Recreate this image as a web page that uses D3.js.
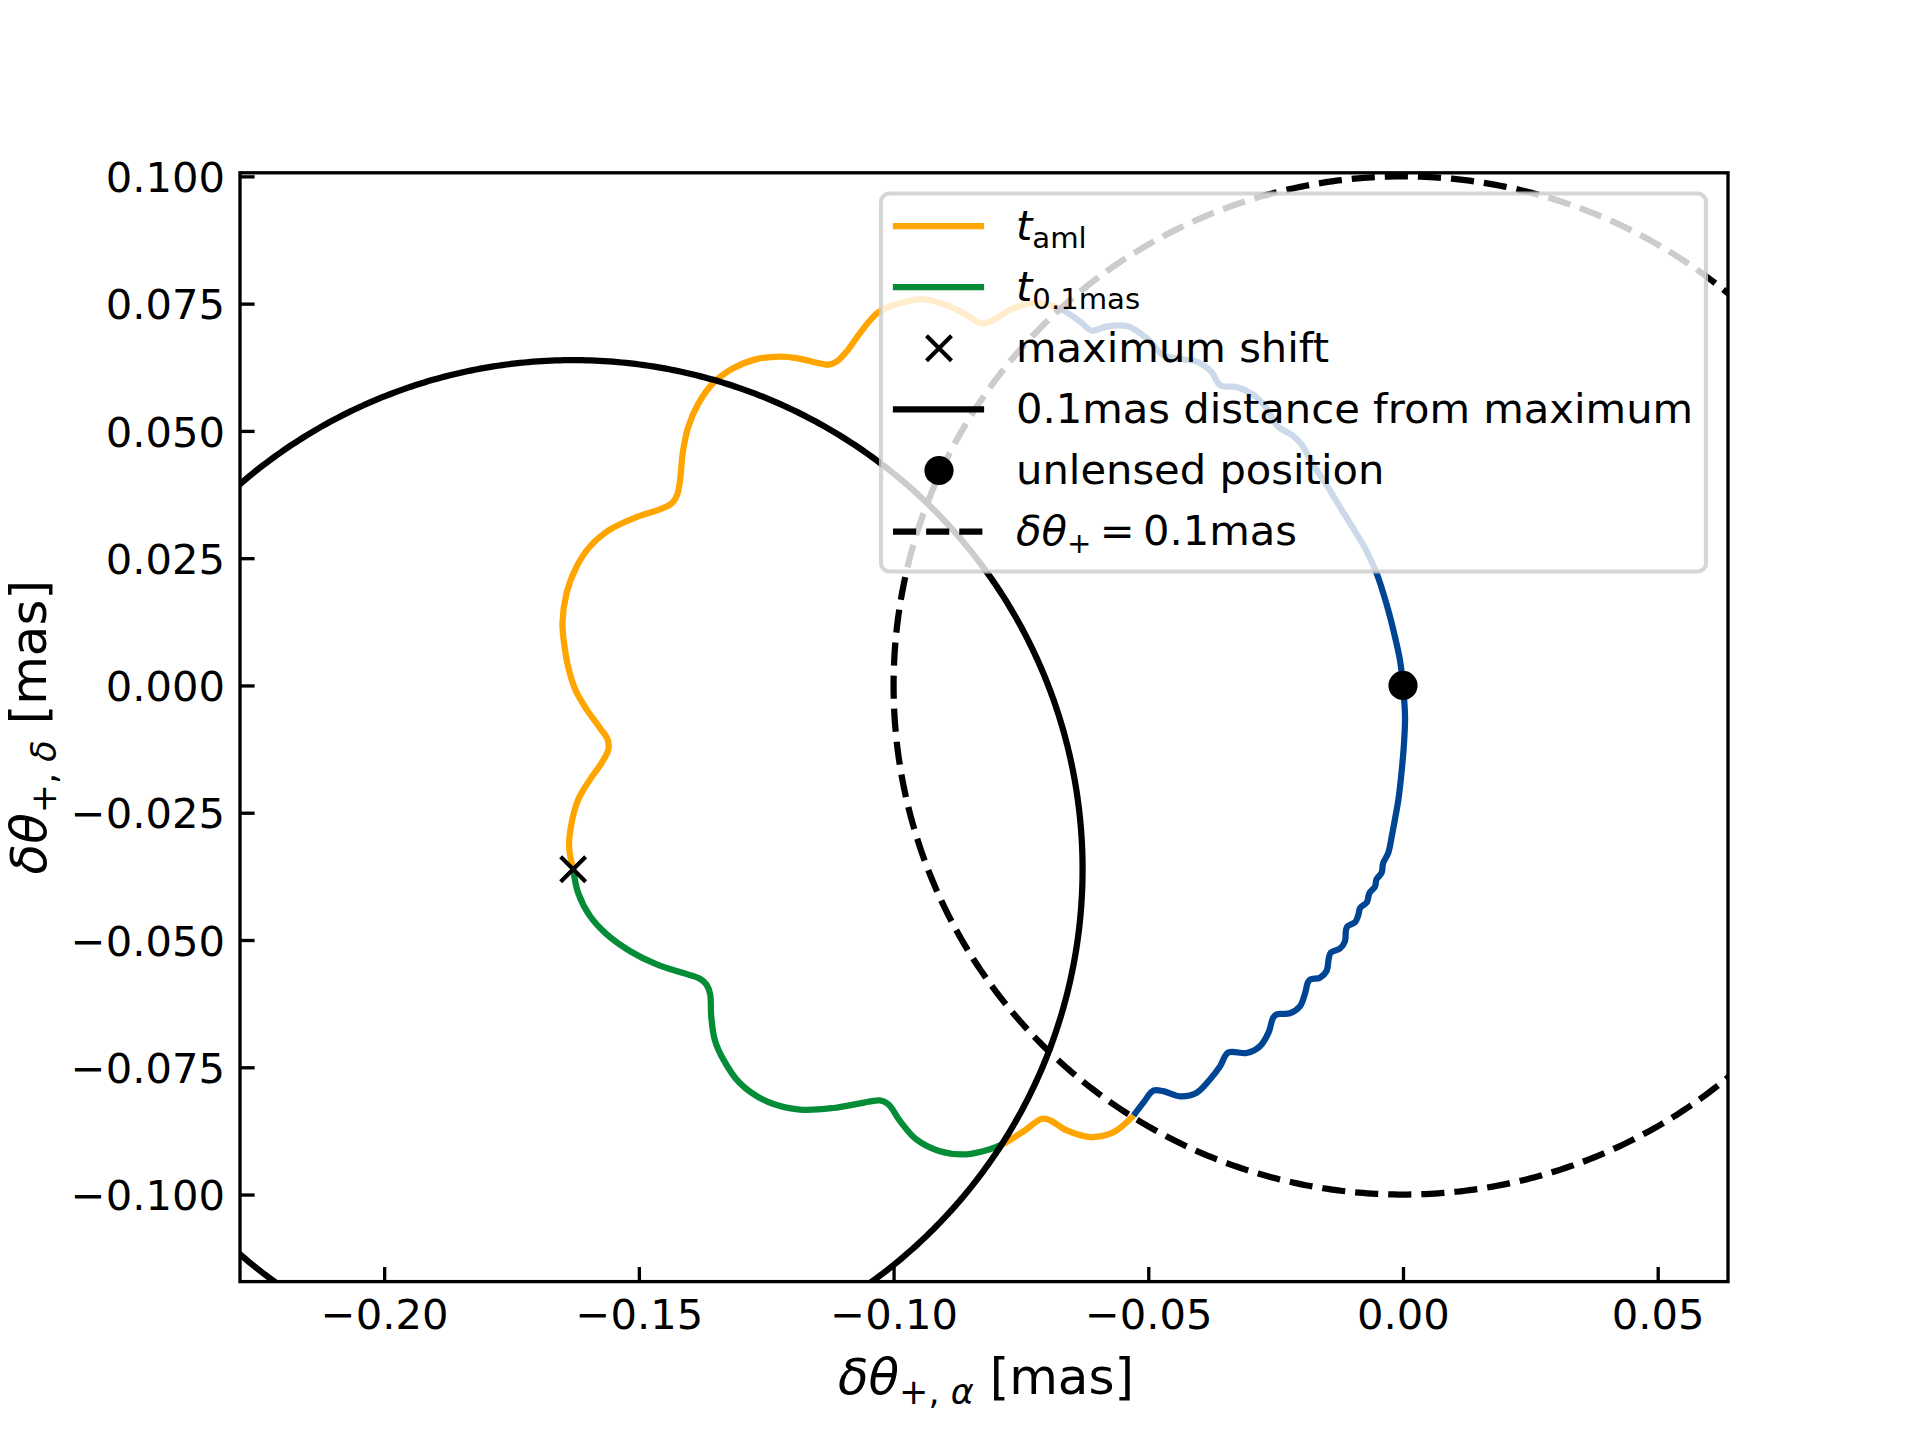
<!DOCTYPE html>
<html><head><meta charset="utf-8">
<script src="https://cdn.jsdelivr.net/npm/d3@7"></script>
<style>
body{margin:0;background:#fff}
svg{display:block}
text{font-family:"DejaVu Sans",sans-serif;white-space:pre;fill:#000}
</style>
</head><body>
<svg id="c" width="1920" height="1440"></svg>
<script>
// ---------- data ----------
const xDomain = [-0.2283, 0.0638];
const yDomain = [-0.1171, 0.1007];
const xTicks = [-0.20, -0.15, -0.10, -0.05, 0.00, 0.05];
const yTicks = [-0.100, -0.075, -0.050, -0.025, 0.000, 0.025, 0.050, 0.075, 0.100];

const maxShift = [-0.1629, -0.0361];
const unlensed = [0.0, 0.0];
const radiusMas = 0.1;

// trajectory pieces (delta alpha, delta delta) in mas
const blueUpper = [
 [0.0000,0.0000],[-0.0006,0.0050],[-0.0018,0.0105],[-0.0033,0.0162],[-0.0052,0.0221],
 [-0.0071,0.0263],[-0.0098,0.0309],[-0.0124,0.0351],[-0.0150,0.0394],[-0.0176,0.0433],
 [-0.0199,0.0473],[-0.0218,0.0492],[-0.0245,0.0508],[-0.0268,0.0545],[-0.0294,0.0571],
 [-0.0326,0.0586],[-0.0359,0.0590],[-0.0376,0.0616],[-0.0405,0.0636],[-0.0444,0.0642],
 [-0.0471,0.0649],[-0.0503,0.0682],[-0.0542,0.0706],[-0.0582,0.0705],[-0.0611,0.0697],
 [-0.0634,0.0715],[-0.0673,0.0741]
];
const orangeUpper = [
 [-0.0673,0.0741],[-0.0719,0.0752],[-0.0765,0.0741],[-0.0804,0.0718],[-0.0827,0.0711],
 [-0.0857,0.0728],[-0.0896,0.0747],[-0.0942,0.0759],[-0.0987,0.0751],[-0.1030,0.0733],
 [-0.1066,0.0692],[-0.1092,0.0656],[-0.1112,0.0636],[-0.1128,0.0630],[-0.1151,0.0634],
 [-0.1190,0.0643],[-0.1223,0.0646],[-0.1269,0.0641],[-0.1315,0.0623],[-0.1354,0.0594],
 [-0.1383,0.0554],[-0.1403,0.0508],[-0.1414,0.0456],[-0.1419,0.0404],[-0.1425,0.0374],
 [-0.1436,0.0357],[-0.1459,0.0346],[-0.1504,0.0331],[-0.1557,0.0306],[-0.1596,0.0273],
 [-0.1622,0.0234],[-0.1642,0.0181],[-0.1650,0.0122],[-0.1645,0.0070],[-0.1639,0.0037],
 [-0.1625,-0.0008],[-0.1602,-0.0048],[-0.1576,-0.0084],[-0.1561,-0.0107],[-0.1560,-0.0126],
 [-0.1573,-0.0152],[-0.1596,-0.0185],[-0.1619,-0.0224],[-0.1632,-0.0270],[-0.1637,-0.0316],
 [-0.1629,-0.0361]
];
const greenSeg = [
 [-0.1629,-0.0361],[-0.1619,-0.0408],[-0.1596,-0.0453],[-0.1563,-0.0489],[-0.1517,-0.0522],
 [-0.1465,-0.0548],[-0.1413,-0.0565],[-0.1380,-0.0576],[-0.1367,-0.0588],[-0.1360,-0.0607],
 [-0.1358,-0.0650],[-0.1351,-0.0696],[-0.1334,-0.0735],[-0.1302,-0.0781],[-0.1249,-0.0817],
 [-0.1184,-0.0833],[-0.1118,-0.0830],[-0.1066,-0.0821],[-0.1027,-0.0815],[-0.1010,-0.0823],
 [-0.0987,-0.0856],[-0.0955,-0.0892],[-0.0909,-0.0915],[-0.0857,-0.0921],[-0.0811,-0.0911],
 [-0.0785,-0.0901]
];
const orangeLower = [
 [-0.0785,-0.0901],[-0.0745,-0.0876],[-0.0709,-0.0851],[-0.0693,-0.0854],[-0.0660,-0.0874],
 [-0.0614,-0.0887],[-0.0569,-0.0878],[-0.0529,-0.0845]
];
const blueLower = [
 [-0.0529,-0.0845],[-0.0510,-0.0820],[-0.0490,-0.0796],[-0.0471,-0.0797],[-0.0438,-0.0807],
 [-0.0405,-0.0800],[-0.0379,-0.0774],[-0.0359,-0.0748],[-0.0343,-0.0721],[-0.0307,-0.0722],
 [-0.0281,-0.0709],[-0.0264,-0.0682],[-0.0255,-0.0653],[-0.0248,-0.0646],[-0.0222,-0.0644],
 [-0.0202,-0.0630],[-0.0192,-0.0604],[-0.0184,-0.0579],[-0.0163,-0.0574],[-0.0150,-0.0561],
 [-0.0146,-0.0538],[-0.0142,-0.0525],[-0.0124,-0.0517],[-0.0114,-0.0503],[-0.0112,-0.0481],
 [-0.0109,-0.0473],[-0.0094,-0.0465],[-0.0088,-0.0452],[-0.0084,-0.0437],[-0.0071,-0.0426],
 [-0.0066,-0.0408],[-0.0055,-0.0395],[-0.0052,-0.0381],[-0.0042,-0.0368],[-0.0039,-0.0349],
 [-0.0029,-0.0329],[-0.0022,-0.0296],[-0.0016,-0.0264],[-0.0009,-0.0224],[-0.0003,-0.0172],
 [0.0002,-0.0113],[0.0004,-0.0061],[0.0000,0.0000]
];

const ORANGE = "#ffa500", GREEN = "#048c37", BLUE = "#004494";

// ---------- layout ----------
const W = 1920, H = 1440;
const L = 240, R = 1728, T = 172.8, B = 1281.6;
const LW = 6.25, FS = 41.67, LFS = 50;

const svg = d3.select("#c");
svg.append("rect").attr("width", W).attr("height", H).attr("fill", "#fff");

const x = d3.scaleLinear().domain(xDomain).range([L, R]);
const y = d3.scaleLinear().domain(yDomain).range([B, T]);

svg.append("defs").append("clipPath").attr("id", "clip")
  .append("rect").attr("x", L).attr("y", T).attr("width", R - L).attr("height", B - T);

const plot = svg.append("g").attr("clip-path", "url(#clip)");

const traj = d3.line().x(d => x(d[0])).y(d => y(d[1])).curve(d3.curveCatmullRom.alpha(0.5));
const lin = d3.line().x(d => x(d[0])).y(d => y(d[1]));

[[blueUpper, BLUE], [blueLower, BLUE], [orangeUpper, ORANGE], [orangeLower, ORANGE], [greenSeg, GREEN]]
  .forEach(([data, col]) => {
    plot.append("path").attr("d", traj(data)).attr("fill", "none")
      .attr("stroke", col).attr("stroke-width", LW)
      .attr("stroke-linejoin", "round").attr("stroke-linecap", "butt");
  });

function circlePts(c, r) {
  return d3.range(0, 721).map(i => {
    const a = i / 720 * 2 * Math.PI;
    return [c[0] + r * Math.cos(a), c[1] + r * Math.sin(a)];
  });
}
plot.append("path").attr("d", lin(circlePts(maxShift, radiusMas)))
  .attr("fill", "none").attr("stroke", "#000").attr("stroke-width", LW);
plot.append("path").attr("d", lin(circlePts(unlensed, radiusMas)))
  .attr("fill", "none").attr("stroke", "#000").attr("stroke-width", LW)
  .attr("stroke-dasharray", `${3.7 * LW},${1.6 * LW}`).attr("stroke-linecap", "butt");

// markers
function xMarker(g, cx, cy) {
  const s = 12.5;
  g.append("path").attr("d", `M${cx - s},${cy - s}L${cx + s},${cy + s}M${cx - s},${cy + s}L${cx + s},${cy - s}`)
    .attr("stroke", "#000").attr("stroke-width", 4.17).attr("fill", "none");
}
xMarker(plot, x(maxShift[0]), y(maxShift[1]));
plot.append("circle").attr("cx", x(unlensed[0])).attr("cy", y(unlensed[1])).attr("r", 12.5)
  .attr("fill", "#000").attr("stroke", "#000").attr("stroke-width", 4.17);

// ---------- axes ----------
const xAxis = svg.append("g").attr("transform", `translate(0,${B})`)
  .call(d3.axisBottom(x).tickValues(xTicks).tickFormat(d3.format(".2f")).tickSizeInner(-14.6).tickSizeOuter(0));
xAxis.select(".domain").remove();
xAxis.selectAll(".tick line").attr("stroke", "#000").attr("stroke-width", 3.33);
xAxis.selectAll(".tick text").attr("font-size", FS).attr("font-family", "DejaVu Sans")
  .attr("y", 47).attr("dy", null).attr("fill", "#000");

const yAxis = svg.append("g").attr("transform", `translate(${L},0)`)
  .call(d3.axisLeft(y).tickValues(yTicks).tickFormat(d3.format(".3f")).tickSizeInner(-14.6).tickSizeOuter(0));
yAxis.select(".domain").remove();
yAxis.selectAll(".tick line").attr("stroke", "#000").attr("stroke-width", 3.33);
yAxis.selectAll(".tick text").attr("font-size", FS).attr("font-family", "DejaVu Sans")
  .attr("x", -15).attr("dy", 15.2).attr("fill", "#000");

svg.append("rect").attr("x", L).attr("y", T).attr("width", R - L).attr("height", B - T)
  .attr("fill", "none").attr("stroke", "#000").attr("stroke-width", 3.33);

// rich text helper
function rich(g, parts, fs, drop) {
  const t = g.append("text").attr("font-size", fs);
  let cur = 0;
  parts.forEach(p => {
    const off = p.sub ? drop : 0;
    t.append("tspan").text(p.t)
      .attr("font-style", p.it ? "italic" : "normal")
      .attr("font-size", p.sub ? fs * 0.7 : fs)
      .attr("dy", off - cur);
    cur = off;
  });
  return t;
}

const xLabelParts = [{t: "δθ", it: 1}, {t: "+, ", sub: 1}, {t: "α", sub: 1, it: 1}, {t: " [mas]"}];
const yLabelParts = [{t: "δθ", it: 1}, {t: "+, ", sub: 1}, {t: "δ", sub: 1, it: 1}, {t: " [mas]"}];
rich(svg, xLabelParts, LFS, 10).attr("x", (L + R) / 2 + 2).attr("y", 1394).attr("text-anchor", "middle");
rich(svg.append("g").attr("transform", `translate(46,${(T + B) / 2}) rotate(-90)`), yLabelParts, LFS, 10)
  .attr("x", 0).attr("y", 0).attr("text-anchor", "middle");

// ---------- legend ----------
const leg = svg.append("g");
leg.append("rect").attr("x", 881).attr("y", 193.5).attr("width", 825).attr("height", 378)
  .attr("rx", 8.3).attr("ry", 8.3)
  .attr("fill", "#fff").attr("fill-opacity", 0.8)
  .attr("stroke", "#cccccc").attr("stroke-opacity", 0.8).attr("stroke-width", 4.17);

const legendLabels = [
  [{t: "t", it: 1}, {t: "aml", sub: 1}],
  [{t: "t", it: 1}, {t: "0.1mas", sub: 1}],
  [{t: "maximum shift"}],
  [{t: "0.1mas distance from maximum"}],
  [{t: "unlensed position"}],
  [{t: "δθ", it: 1}, {t: "+", sub: 1}, {t: "\u2009=\u20090.1mas"}]
];
const legendKinds = ["orange", "green", "x", "solid", "dot", "dashed"];
const row0 = 226.1, rowStep = 61.1, hx0 = 896, hx1 = 981, hxc = 939, tx = 1016;
legendKinds.forEach((k, i) => {
  const cy = row0 + i * rowStep;
  if (k === "orange" || k === "green" || k === "solid") {
    leg.append("line").attr("x1", hx0).attr("x2", hx1).attr("y1", cy).attr("y2", cy)
      .attr("stroke", k === "orange" ? ORANGE : k === "green" ? GREEN : "#000")
      .attr("stroke-width", LW).attr("stroke-linecap", "square");
  } else if (k === "dashed") {
    leg.append("line").attr("x1", hx0 - 3).attr("x2", hx1 + 3).attr("y1", cy).attr("y2", cy)
      .attr("stroke", "#000").attr("stroke-width", LW)
      .attr("stroke-dasharray", `${3.7 * LW},${1.6 * LW}`).attr("stroke-linecap", "butt");
  } else if (k === "x") {
    xMarker(leg, hxc, cy);
  } else {
    leg.append("circle").attr("cx", hxc).attr("cy", cy).attr("r", 12.5)
      .attr("fill", "#000").attr("stroke", "#000").attr("stroke-width", 4.17);
  }
  rich(leg, legendLabels[i], FS, 8).attr("x", tx).attr("y", cy + 13.5);
});
</script>
</body></html>
